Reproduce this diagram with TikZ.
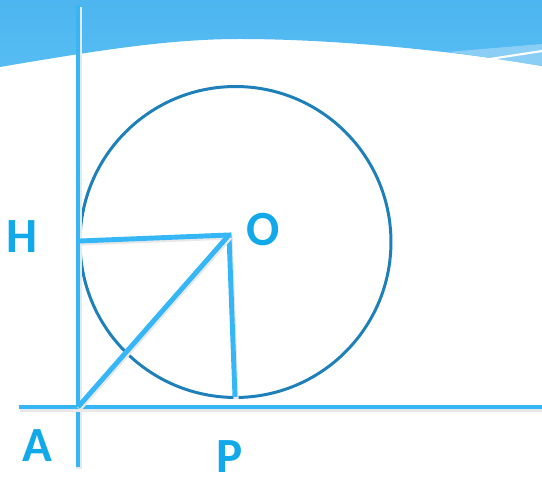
\documentclass[tikz,border=0pt]{standalone}
\usepackage{fontspec}
\setsansfont{Carlito}
\usetikzlibrary{positioning}
\definecolor{sky}{HTML}{4DB5EF}
\definecolor{skylow}{HTML}{56BCF3}
\definecolor{skylight}{HTML}{8ACEF6}
\definecolor{ray}{HTML}{35B6F6}
\definecolor{ring}{HTML}{1E80BA}
\definecolor{letter}{HTML}{12A9EA}

\begin{document}
\begin{tikzpicture}[x=0.02cm, y=-0.02cm,
      seg/.style={draw=ray, line width=2.8pt,
                  preaction={draw=black!9, line width=3pt,
                             transform canvas={shift={(0.6pt,-1.1pt)}}}},
      rim/.style={draw=ring, line width=1.7pt},
      lbl/.style={font=\sffamily\bfseries\fontsize{28}{28}\selectfont,
                  text=letter, inner sep=0pt}]
    \useasboundingbox (0,0) rectangle (542,479);
    \shade[top color=sky, bottom color=skylow]
      (0,0) -- (542,0) -- (542,66)
      .. controls (450,50) and (330,39) .. (240,39)
      .. controls (170,39) and (100,50) .. (0,67) -- cycle;
    \fill[skylight] (447,52) -- (542,44) -- (542,66)
      .. controls (510,61) and (480,56) .. (447,52) -- cycle;
    \draw[white, line width=1.2pt] (490,59) -- (542,51);
    \coordinate (top) at (78,5);
    \coordinate (bot) at (78,467);
    \coordinate (west) at (19,407);
    \coordinate (east) at (542,407);
    \coordinate (A) at (78,407);
    \coordinate (H) at (80,241);
    \coordinate (O) at (229,235);
    \coordinate (P) at (235,397);
    \coordinate (c) at (235.5,242);
    \draw[rim] (c) circle[radius=3.11cm];
    \draw[seg] (top) -- (bot);
    \draw[seg] (west) -- (east);
    \draw[seg] (H) -- (O) -- (P);
    \draw[seg] (A) -- (O);
    \node[lbl] (h) at (22,237) {H};
    \node[lbl] (o) at (263,230) {O};
    \node[lbl] (a) at (37,446) {A};
    \node[lbl] (p) at (230,457) {P};
  \end{tikzpicture}
\end{document}
